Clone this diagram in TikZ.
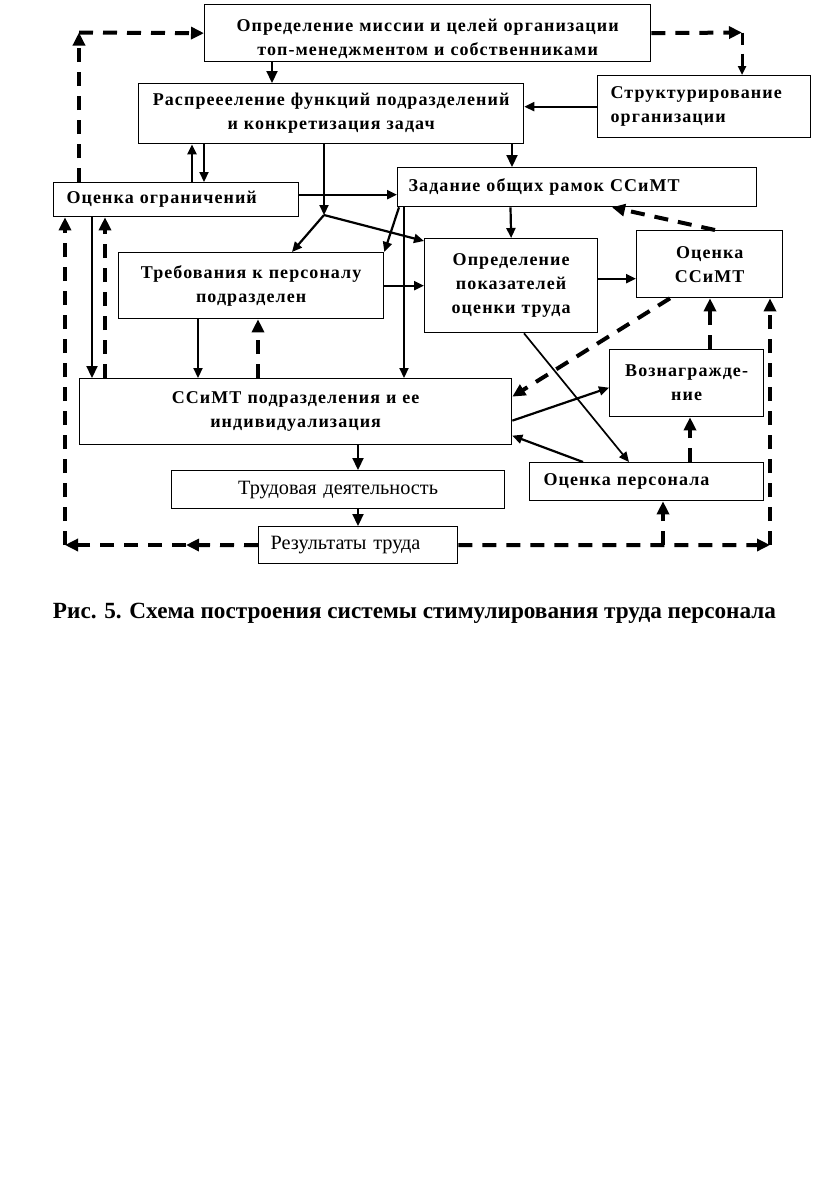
\documentclass[tikz,border=0pt]{standalone}
\usepackage{fontspec}
\setmainfont{Liberation Serif}
\newfontfamily\boxfont[LetterSpace=6]{Liberation Serif}
\usetikzlibrary{arrows.meta}
\tikzset{
  box/.style={draw, line width=1.3pt, inner ysep=0pt, anchor=north west,
    font=\boxfont\bfseries\fontsize{18}{24}\selectfont},
  regbox/.style={box, font=\fontsize{20.3}{24}\selectfont},
  arr/.style={line width=2.2pt, -{Triangle[length=10pt,width=9pt]}},
  darr/.style={line width=4pt, dash pattern=on 14pt off 10pt, -{Triangle[length=13pt,width=12pt]}},
  darrthin/.style={line width=3pt, dash pattern=on 12pt off 9pt, -{Triangle[length=9pt,width=8pt]}}
}
\begin{document}
\begin{tikzpicture}[x=1pt,y=-1pt]
\useasboundingbox (0,0) rectangle (816,1203);
% boxes
\node[box, inner xsep=4pt, text width=438pt, minimum height=57pt, align=center] (mission) at (204,4) {\rule{0pt}{23pt}Определение миссии и целей организации\\топ-менеджментом и собственниками};
\node[box, inner xsep=4pt, text width=377pt, minimum height=60pt, align=center] (dist) at (138,83) {Распреееление функций подразделений\\и конкретизация задач};
\node[box, inner xsep=13pt, text width=187pt, minimum height=62pt, align=left] (struct) at (597,75) {Структурирование\\организации};
\node[box, inner xsep=13pt, text width=219pt, minimum height=34pt, align=left] (ogr) at (53,182) {Оценка ограничений};
\node[box, inner xsep=11pt, text width=337pt, minimum height=39pt, align=left] (zad) at (397,167) {Задание общих рамок ССиМТ};
\node[box, inner xsep=4pt, text width=257pt, minimum height=66pt, align=center] (treb) at (118,252) {Требования к персоналу\\подразделен};
\node[box, inner xsep=4pt, text width=165pt, minimum height=94pt, align=center] (opr) at (424,238) {Определение\\показателей\\оценки труда};
\node[box, inner xsep=4pt, text width=138pt, minimum height=67pt, align=center] (ocs) at (636,230) {Оценка\\ССиМТ};
\node[box, inner xsep=4pt, text width=424pt, minimum height=66pt, align=center] (ssimt) at (79,378) {ССиМТ подразделения и ее\\индивидуализация};
\node[regbox, inner xsep=4pt, text width=325pt, minimum height=38pt, align=center] (trud) at (171,470) {Трудовая деятельность};
\node[regbox, inner xsep=12pt, text width=175pt, minimum height=37pt, align=left] (res) at (258,526) {Результаты труда};
\node[box, inner xsep=4pt, text width=146pt, minimum height=67pt, align=center] (vozn) at (609,349) {Вознагражде-\\ние};
\node[box, inner xsep=14pt, text width=206pt, minimum height=38pt, align=left] (ocp) at (529,462) {Оценка персонала};
% caption
\node[font=\bfseries\fontsize{23.2}{26}\selectfont, inner sep=0pt] (cap) at (414.5,613) {Рис. 5. Схема построения системы стимулирования труда персонала};
% coordinates
\coordinate (cTR) at (742,32.5);
\coordinate (cTL) at (79,32.5);
\coordinate (cBL) at (65,545);
\coordinate (cBM) at (186,545);
\coordinate (cBR) at (770,545);
\coordinate (cBB) at (663,545);
\coordinate (cJ) at (324,215);
% solid arrows
\draw[arr, -{Triangle[length=12pt,width=11pt]}] ([xshift=68pt]mission.south west) -- ([xshift=134pt]dist.north west);
\draw[arr] (struct.west) -- (struct.west -| dist.east);
\draw[arr, -{Triangle[length=12pt,width=11pt]}] ([xshift=374pt]dist.south west) -- ([xshift=115pt]zad.north west);
\draw[arr] ([xshift=139pt]ogr.north west) -- ([xshift=54pt]dist.south west);
\draw[arr] ([xshift=66pt]dist.south west) -- ([xshift=151pt]ogr.north west);
\draw[arr] ([xshift=186pt]dist.south west) -- (cJ);
\draw[arr] (cJ) -- ([xshift=174pt]treb.north west);
\draw[arr] (cJ) -- ([yshift=-3pt]opr.north west);
\draw[arr] ([yshift=5pt]ogr.east) -- ([yshift=-7.5pt]zad.west);
\draw[arr] ([xshift=2pt]zad.south west) -- (treb.north east);
\draw[arr] ([xshift=7pt]zad.south west) -- ([xshift=325pt]ssimt.north west);
\draw[arr] ([xshift=113.5pt]zad.south west) -- (opr.north);
\draw[arr] (treb.east) -- (treb.east -| opr.west);
\draw[arr] ([yshift=7pt]opr.east) -- ([yshift=-14.5pt]ocs.west);
\draw[arr] ([xshift=80pt]treb.south west) -- ([xshift=119pt]ssimt.north west);
\draw[arr, -{Triangle[length=12pt,width=11pt]}] ([xshift=39pt]ogr.south west) -- ([xshift=13pt]ssimt.north west);
\draw[arr] ([yshift=-9pt]ssimt.east) -- ([yshift=-4.5pt]vozn.west);
\draw[arr] ([xshift=54pt]ocp.north west) -- ([yshift=-24pt]ssimt.east);
\draw[arr, line width=1.7pt] ([xshift=100pt]opr.south west) -- ([xshift=100pt]ocp.north west);
\draw[arr, -{Triangle[length=12pt,width=11pt]}] ([xshift=279pt]ssimt.south west) -- ([xshift=187pt]trud.north west);
\draw[arr, -{Triangle[length=12pt,width=11pt]}] ([xshift=187pt]trud.south west) -- ([xshift=100pt]res.north west);
% dashed arrows
\draw[darr] (mission.east) -- (cTR);
\draw[darrthin] (cTR) -- (struct.north -| cTR);
\draw[darr] ([xshift=79pt]ocs.north west) -- ([xshift=215pt]zad.south west);
\draw[darr] ([xshift=179pt]ssimt.north west) -- ([xshift=140pt]treb.south west);
\draw[darr] ([xshift=26pt]ssimt.north west) -- ([xshift=52pt]ogr.south west);
\draw[darr] (res.west) -- (cBM);
\draw[darr] (cBM) -- (cBL);
\draw[darr] (cBL) -- (ogr.south -| cBL);
\draw[darr] ([xshift=26pt]ogr.north west) -- (cTL);
\draw[darr] (cTL) -- (mission.west);
\draw[darr] (res.east) -- (cBR);
\draw[darr] (cBB) -- (ocp.south -| cBB);
\draw[darr] (cBR) -- (ocs.south -| cBR);
\draw[darr] ([xshift=101pt]vozn.north west) -- ([xshift=74pt]ocs.south west);
\draw[darr] ([xshift=161pt]ocp.north west) -- ([xshift=81pt]vozn.south west);
\draw[darr] ([xshift=34pt]ocs.south west) -- ([yshift=15pt]ssimt.east);
\end{tikzpicture}
\end{document}
